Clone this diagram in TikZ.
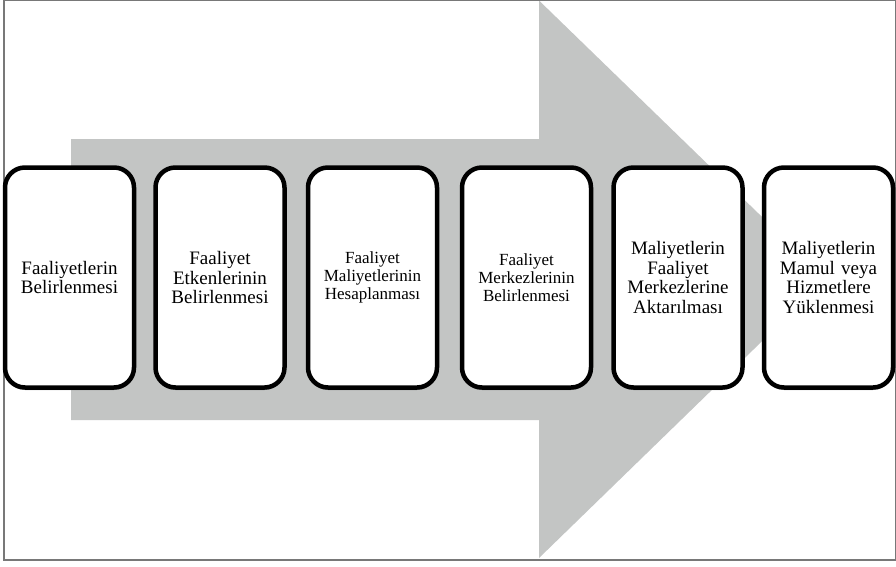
\documentclass[tikz,border=0pt]{standalone}
\usepackage{fontspec}
\setmainfont{Liberation Serif}
\usetikzlibrary{shadows}
\definecolor{arrowgray}{RGB}{195,197,196}
\definecolor{framegray}{RGB}{120,120,120}
\tikzset{
  stepbox/.style={draw=black, line width=4.5pt, rounded corners=20pt, fill=white,
    minimum width=129pt, minimum height=220pt, align=center, inner sep=2pt,
    text width=125pt,
    drop shadow={shadow xshift=0pt, shadow yshift=-2.5pt, opacity=0.35, fill=black}},
  bigtxt/.style={font=\fontsize{19}{19.5}\selectfont},
  midtxt/.style={font=\fontsize{17}{18}\selectfont},
}
\begin{document}
\begin{tikzpicture}[x=1pt,y=-1pt]
\useasboundingbox (0,0) rectangle (896,566);
\fill[white] (0,0) rectangle (896,566);
% big gray arrow
\fill[arrowgray] (71,139) -- (539,139) -- (539,0.5) -- (826,279) -- (539,558) -- (539,420) -- (71,420) -- cycle;
% frame
\draw[framegray, line width=1.3pt] (4,0.6) rectangle (895.3,560);
% steps
\node[stepbox, bigtxt] (s1) at (69.5,277.5) {Faaliyetlerin\\Belirlenmesi};
\node[stepbox, bigtxt] (s2) at (220,277.5) {Faaliyet\\Etkenlerinin\\Belirlenmesi};
\node[stepbox, midtxt] (s3) at (372.5,277.5) {Faaliyet\\Maliyetlerinin\\Hesaplanması};
\node[stepbox, midtxt] (s4) at (526.5,277.5) {Faaliyet\\Merkezlerinin\\Belirlenmesi};
\node[stepbox, bigtxt] (s5) at (678,277.5) {Maliyetlerin\\Faaliyet\\Merkezlerine\\Aktarılması};
\node[stepbox, bigtxt] (s6) at (828.5,277.5) {Maliyetlerin\\Mamul veya\\Hizmetlere\\Yüklenmesi};
\end{tikzpicture}
\end{document}
